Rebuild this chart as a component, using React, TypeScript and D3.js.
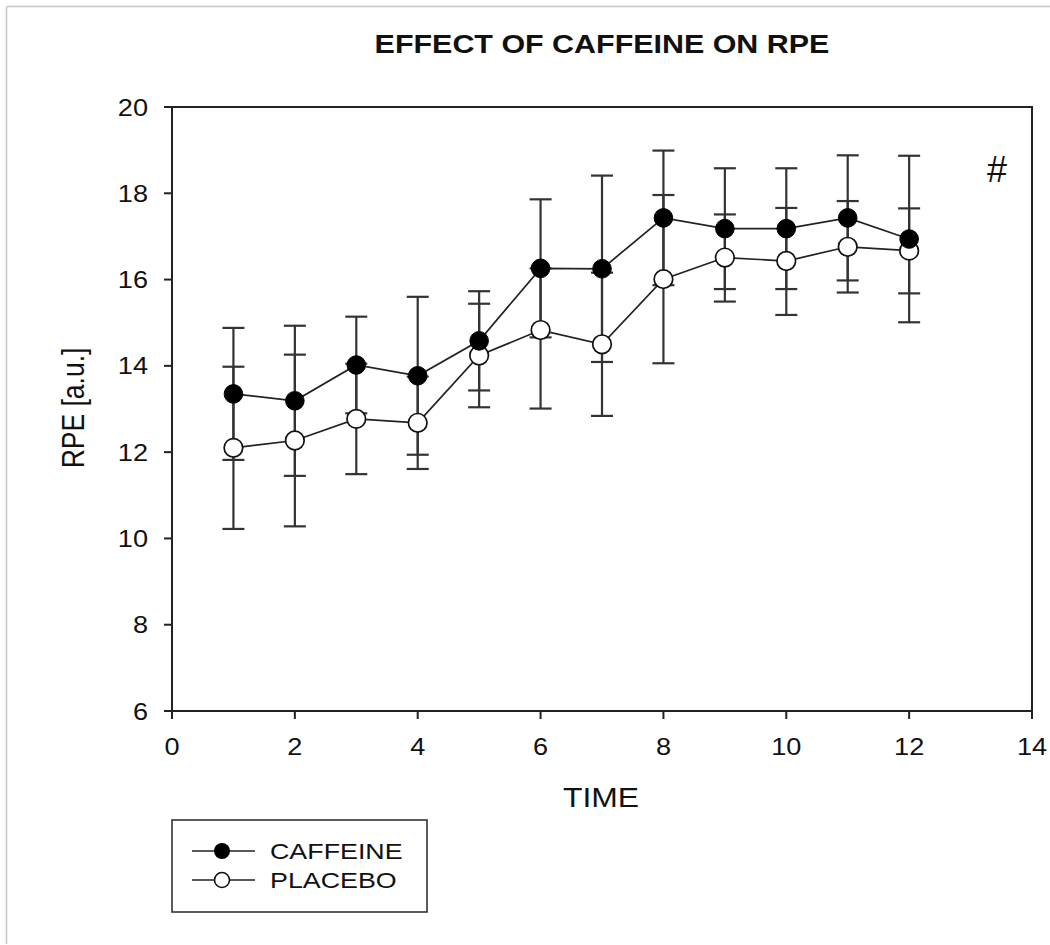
import React from "react";
import * as d3 from "d3";

// Time points and mean RPE with SD for each condition
const timePoints = [1, 2, 3, 4, 5, 6, 7, 8, 9, 10, 11, 12];
const caffeineMean = [13.35, 13.19, 14.02, 13.77, 14.58, 16.26, 16.25, 17.43, 17.18, 17.18, 17.43, 16.94];
const caffeineSD = [1.53, 1.74, 1.12, 1.83, 1.15, 1.6, 2.16, 1.56, 1.4, 1.4, 1.45, 1.93];
const placeboMean = [12.1, 12.27, 12.77, 12.68, 14.24, 14.83, 14.5, 16.01, 16.51, 16.43, 16.76, 16.67];
const placeboErrUp = [1.88, 1.99, 1.28, 1.07, 1.2, 1.43, 1.66, 1.95, 1.0, 1.23, 1.06, 0.98];
const placeboErrDown = [1.88, 1.99, 1.28, 1.07, 1.2, 1.82, 1.66, 1.95, 1.02, 1.25, 1.06, 0.99];

const xTicks = [0, 2, 4, 6, 8, 10, 12, 14];
const yTicks = [6, 8, 10, 12, 14, 16, 18, 20];

const FONT = "'Liberation Sans', Arial, Helvetica, sans-serif";
const SX = 1.18; // horizontal stretch of the lettering

type TProps = {
  x: number;
  y: number;
  size: number;
  anchor?: "start" | "middle" | "end";
  weight?: string | number;
  sx?: number;
  children: React.ReactNode;
};

function T({ x, y, size, anchor = "start", weight = "normal", sx = SX, children }: TProps) {
  return (
    <text
      transform={`translate(${x},${y}) scale(${sx},1)`}
      fontFamily={FONT}
      fontSize={size}
      fontWeight={weight}
      textAnchor={anchor}
      fill="#111"
    >
      {children}
    </text>
  );
}

export default function App() {
  const x = d3.scaleLinear().domain([0, 14]).range([172, 1032]);
  const y = d3.scaleLinear().domain([6, 20]).range([711, 107]);

  const line = d3
    .line<number>()
    .x((_, i) => x(timePoints[i]))
    .y((d) => y(d));

  const cap = 11;
  const r = 9.3;

  const caffeineBars = timePoints.map((t, i) => ({
    t,
    hi: caffeineMean[i] + caffeineSD[i],
    lo: caffeineMean[i] - caffeineSD[i],
  }));
  const placeboBars = timePoints.map((t, i) => ({
    t,
    hi: placeboMean[i] + placeboErrUp[i],
    lo: placeboMean[i] - placeboErrDown[i],
  }));

  const errColor = "#333";

  return (
    <svg
      width={1050}
      height={945}
      style={{ position: "absolute", left: 0, top: 0, background: "#fff" }}
    >
      {/* outer frame edges */}
      <line x1={6.5} y1={6.5} x2={1050} y2={6.5} stroke="#c8c8c8" strokeWidth={1.5} />
      <line x1={6.5} y1={6.5} x2={6.5} y2={944} stroke="#c8c8c8" strokeWidth={1.5} />

      {/* title */}
      <T x={602} y={53} size={25.8} anchor="middle" weight="bold">
        EFFECT OF CAFFEINE ON RPE
      </T>

      {/* plot frame */}
      <rect
        x={x(0)}
        y={y(20)}
        width={x(14) - x(0)}
        height={y(6) - y(20)}
        fill="none"
        stroke="#222"
        strokeWidth={2}
      />

      {/* y axis ticks and labels */}
      {yTicks.map((v) => (
        <g key={"y" + v}>
          <line x1={x(0) - 8} x2={x(0)} y1={y(v)} y2={y(v)} stroke="#222" strokeWidth={2} />
          <T x={148} y={y(v) + 8.5} size={23} anchor="end">
            {v}
          </T>
        </g>
      ))}

      {/* x axis ticks and labels */}
      {xTicks.map((v) => (
        <g key={"x" + v}>
          <line x1={x(v)} x2={x(v)} y1={y(6)} y2={y(6) + 8} stroke="#222" strokeWidth={2} />
          <T x={x(v)} y={755} size={23} anchor="middle">
            {v}
          </T>
        </g>
      ))}

      {/* axis titles */}
      <T x={601} y={807} size={27} anchor="middle">
        TIME
      </T>
      <text
        transform={`translate(84,408) rotate(-90) scale(1,${SX})`}
        fontFamily={FONT}
        fontSize={26.5}
        textAnchor="middle"
        fill="#111"
      >
        RPE [a.u.]
      </text>

      {/* significance marker */}
      <text x={997} y={182} fontFamily={FONT} fontSize={36} textAnchor="middle" fill="#111">
        #
      </text>

      {/* error bars */}
      {[caffeineBars, placeboBars].map((bars, k) => (
        <g key={"eb" + k} stroke={errColor} strokeWidth={2.2}>
          {bars.map((b) => (
            <g key={b.t}>
              <line x1={x(b.t)} x2={x(b.t)} y1={y(b.hi)} y2={y(b.lo)} />
              <line x1={x(b.t) - cap} x2={x(b.t) + cap} y1={y(b.hi)} y2={y(b.hi)} />
              <line x1={x(b.t) - cap} x2={x(b.t) + cap} y1={y(b.lo)} y2={y(b.lo)} />
            </g>
          ))}
        </g>
      ))}

      {/* series lines */}
      <path d={line(caffeineMean) ?? ""} fill="none" stroke="#222" strokeWidth={1.7} />
      <path d={line(placeboMean) ?? ""} fill="none" stroke="#222" strokeWidth={1.7} />

      {/* markers */}
      {placeboMean.map((v, i) => (
        <circle
          key={"p" + i}
          cx={x(timePoints[i])}
          cy={y(v)}
          r={r}
          fill="#fff"
          stroke="#111"
          strokeWidth={1.7}
        />
      ))}
      {caffeineMean.map((v, i) => (
        <circle key={"c" + i} cx={x(timePoints[i])} cy={y(v)} r={r} fill="#000" stroke="#000" />
      ))}

      {/* legend */}
      <rect x={172} y={820} width={255} height={92} fill="#fff" stroke="#333" strokeWidth={1.6} />
      <line x1={192} x2={255} y1={851} y2={851} stroke="#222" strokeWidth={1.6} />
      <circle cx={222} cy={851} r={8} fill="#000" />
      <T x={270} y={859} size={22} anchor="start" sx={1.22}>
        CAFFEINE
      </T>
      <line x1={192} x2={255} y1={880} y2={880} stroke="#222" strokeWidth={1.6} />
      <circle cx={222} cy={880} r={7.5} fill="#fff" stroke="#111" strokeWidth={1.6} />
      <T x={270} y={888} size={22} anchor="start" sx={1.22}>
        PLACEBO
      </T>
    </svg>
  );
}
